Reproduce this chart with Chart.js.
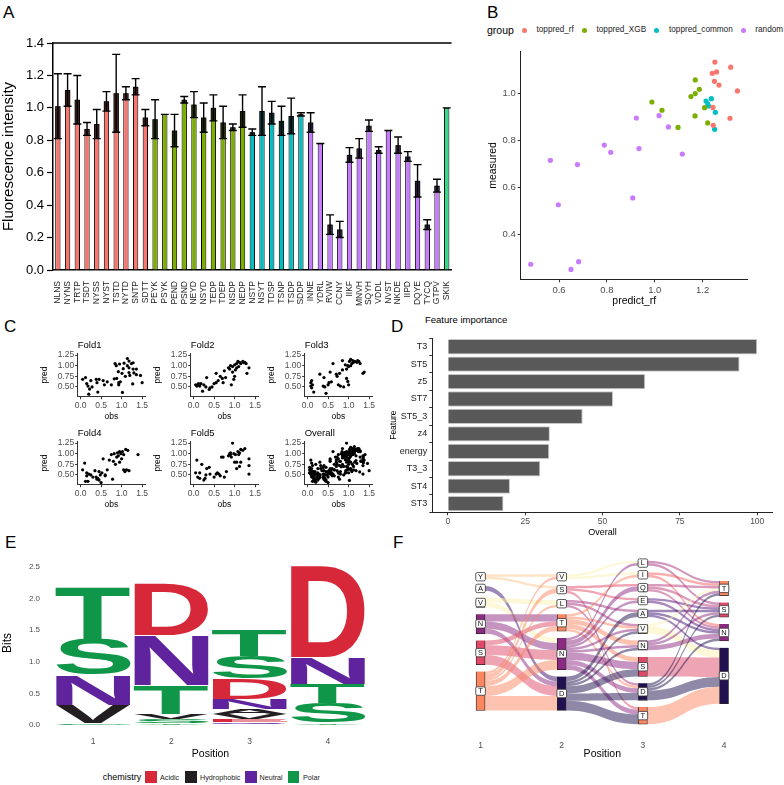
<!DOCTYPE html>
<html>
<head>
<meta charset="utf-8">
<script src="https://cdn.jsdelivr.net/npm/chart.js@4.4.0/dist/chart.umd.min.js"></script>
<style>
  body { margin: 0; width: 784px; height: 785px; position: relative; background: #fff; overflow: hidden;
         font-family: "Liberation Sans", Arial, Helvetica, sans-serif; }
  canvas { position: absolute; }
  .t { position: absolute; white-space: nowrap; line-height: 1; color: #000; }
  .sw { position: absolute; }
</style>
</head>
<body>
<script>
// ---------- panel A: fluorescence of tested sequences ----------
const seqLabels = ['NLNS','NYNS','TRTP','TSDT','NYSS','NYST','TSTD','NYTD','SNTP','SDTT',
  'PEYK','PSYK','PEND','PSND','NEYD','NSYD','TEDP','TDEP','NSDP','NEDP',
  'NSTP','NSYT','TDSP','TSNP','TSDP','SDDP',
  'INNE','YDRL','RVIW','CCNY','IIKF','MNVH','SQYH','VDDL','NVST','NKDE','IIPD','DQYE','TYCQ','GTPV',
  'SKIK'];
const seqGroup = ['rf','rf','rf','rf','rf','rf','rf','rf','rf','rf',
  'xgb','xgb','xgb','xgb','xgb','xgb','xgb','xgb','xgb','xgb',
  'common','common','common','common','common','common',
  'random','random','random','random','random','random','random','random','random','random','random','random','random','random',
  'control'];
const fluoMean = [1.01,1.11,1.05,0.87,0.90,1.04,1.09,1.09,1.13,0.94,
  0.93,0.96,0.86,1.05,1.02,0.94,1.00,0.91,0.88,0.98,
  0.85,0.98,0.97,0.92,0.95,0.96,
  0.91,0.78,0.28,0.25,0.71,0.75,0.89,0.74,0.86,0.77,0.70,0.55,0.28,0.52,
  1.00];
const fluoSd = [0.20,0.10,0.15,0.04,0.09,0.06,0.24,0.04,0.05,0.05,
  0.12,0,0.10,0.02,0.08,0.09,0.08,0.10,0.02,0.10,
  0.02,0.15,0.07,0.09,0.11,0.01,
  0.06,0,0.06,0.05,0.045,0.06,0.035,0.02,0,0.05,0.03,0.10,0.03,0.04,
  0];
const fluoTicks = [0, 0.2, 0.4, 0.6, 0.8, 1.0, 1.2, 1.4];

// ---------- panel B: measured vs predicted ----------
const rfPredict = [1.251,1.317,1.240,1.258,1.249,1.268,1.345,1.243,1.314,1.244];
const rfMeasured = [1.133,1.111,1.085,1.091,1.051,1.035,1.010,0.940,0.894,0.864];
const xgbPredict = [1.169,1.186,1.169,1.151,0.988,1.030,1.208,1.168,1.097,1.221];
const xgbMeasured = [1.057,1.017,0.999,0.986,0.963,0.928,0.939,0.904,0.855,0.874];
const commonPredict = [1.214,1.236,1.221,1.224,1.253,1.250];
const commonMeasured = [0.967,0.977,0.955,0.946,0.919,0.847];
const randomPredict = [0.923,1.018,1.057,1.115,0.789,0.816,0.934,0.564,0.677,0.597,0.908,0.482,0.650,0.682];
const randomMeasured = [0.895,0.905,0.857,0.742,0.780,0.749,0.765,0.715,0.697,0.526,0.555,0.273,0.251,0.284];
const bTicksX = [0.6, 0.8, 1.0, 1.2];
const bTicksY = [0.4, 0.6, 0.8, 1.0];

// ---------- panel C: cross-validation folds [obs, pred] ----------
const fold1 = [[0.05,0.68],[0.12,0.72],[0.15,0.58],[0.18,0.52],[0.22,0.45],[0.20,0.33],[0.25,0.65],[0.28,0.50],[0.38,0.68],[0.40,0.60],[0.42,0.38],[0.45,0.68],[0.55,0.65],[0.58,0.55],[0.65,0.62],[0.75,0.55],[0.82,0.69],[0.88,0.70],[0.93,0.60],[0.97,0.62],[0.84,1.05],[0.87,1.00],[0.95,1.04],[0.92,0.86],[1.04,0.93],[1.06,1.06],[1.01,0.82],[1.09,0.75],[1.14,1.00],[1.18,0.84],[0.93,0.55],[1.20,0.77],[1.02,0.37],[1.18,1.11],[1.24,1.05],[1.14,1.17],[1.28,1.07],[1.28,0.92],[1.30,0.83],[1.36,0.92],[1.36,0.79],[1.46,0.77],[1.50,0.60],[1.27,0.57],[1.18,0.95]];
const fold2 = [[0.05,0.55],[0.10,0.55],[0.15,0.52],[0.18,0.58],[0.22,0.40],[0.25,0.55],[0.30,0.50],[0.32,0.72],[0.38,0.44],[0.40,0.48],[0.45,0.50],[0.50,0.58],[0.55,0.60],[0.55,0.82],[0.60,0.65],[0.65,0.75],[0.70,0.70],[0.72,0.60],[0.75,0.88],[0.78,0.72],[0.85,0.95],[0.88,0.92],[0.90,1.00],[0.92,0.55],[0.95,0.98],[0.95,0.85],[1.00,1.02],[1.00,0.75],[1.02,0.90],[1.05,1.05],[1.05,0.95],[1.08,1.10],[1.10,0.98],[1.12,1.08],[1.15,1.05],[1.20,1.10],[1.22,1.07],[1.25,1.08],[1.28,1.05],[1.30,0.82],[1.35,0.95],[0.98,0.68],[0.12,0.58],[0.08,0.52]];
const fold3 = [[0.08,0.60],[0.08,0.52],[0.10,0.48],[0.12,0.55],[0.15,0.38],[0.10,0.65],[0.30,0.80],[0.38,0.52],[0.40,0.72],[0.42,0.50],[0.45,0.35],[0.50,0.55],[0.52,0.60],[0.55,0.85],[0.58,0.62],[0.62,1.05],[0.70,0.80],[0.72,0.75],[0.75,0.55],[0.78,0.82],[0.80,0.52],[0.85,0.90],[0.85,1.12],[0.88,0.50],[0.92,1.02],[0.95,0.70],[0.95,0.92],[0.98,0.63],[1.00,0.98],[1.00,0.55],[1.02,1.10],[1.05,1.00],[1.08,1.05],[1.10,1.12],[1.12,1.08],[1.15,1.10],[1.20,1.08],[1.22,1.12],[1.25,1.10],[1.28,1.05],[1.35,0.82],[1.38,0.85],[0.98,1.00],[1.05,1.15]];
const fold4 = [[0.05,0.62],[0.10,0.78],[0.12,0.35],[0.15,0.55],[0.15,0.48],[0.18,0.35],[0.20,0.52],[0.25,0.50],[0.30,0.45],[0.35,0.60],[0.38,0.45],[0.40,0.40],[0.42,0.42],[0.45,0.38],[0.45,0.58],[0.48,0.50],[0.50,0.32],[0.52,0.55],[0.55,0.88],[0.60,0.48],[0.65,0.62],[0.70,0.85],[0.75,0.98],[0.78,0.40],[0.80,0.82],[0.82,1.00],[0.85,0.75],[0.88,0.92],[0.90,1.02],[0.92,0.95],[0.95,1.05],[0.98,1.00],[1.00,0.88],[1.02,1.05],[1.05,0.62],[1.05,0.98],[1.08,0.58],[1.10,1.10],[1.12,0.62],[1.15,1.08],[1.18,0.60],[1.40,0.98],[0.95,0.80],[0.60,0.50]];
const fold5 = [[0.05,0.55],[0.08,0.85],[0.10,0.45],[0.15,0.42],[0.20,0.75],[0.25,0.38],[0.28,0.42],[0.30,0.50],[0.32,0.65],[0.38,0.68],[0.40,0.52],[0.50,0.45],[0.55,0.52],[0.58,0.55],[0.62,0.52],[0.65,0.48],[0.68,0.92],[0.72,0.92],[0.75,0.45],[0.80,0.58],[0.85,0.95],[0.88,1.00],[0.90,1.02],[0.92,0.92],[0.95,1.25],[0.98,1.00],[1.00,0.80],[1.02,0.98],[1.05,0.65],[1.05,0.80],[1.08,1.05],[1.10,0.98],[1.12,1.02],[1.15,1.10],[1.12,0.70],[1.15,0.80],[1.20,1.08],[1.25,1.12],[1.35,0.88],[1.35,0.72],[1.35,0.52],[0.90,0.98],[0.15,0.55]];
const foldTicksX = [0, 0.5, 1.0, 1.5];
const foldTicksY = [0.5, 0.75, 1.0, 1.25];

// ---------- panel D: feature importance ----------
const featureNames = ['T3','ST5','z5','ST7','ST5_3','z4','energy','T3_3','ST4','ST3'];
const featureImportance = [100, 94.3, 63.8, 53.4, 43.6, 33.0, 32.8, 29.9, 20.1, 18.0];
const importanceTicks = [0, 25, 50, 75, 100];

// ---------- panel E: sequence logo (bottom -> top per position) ----------
const logoPositions = ['1','2','3','4'];
const logoLetters = [
  ['G','V','N','S','T'],
  ['Y','S','V','T','N','D'],
  ['Q','E','V','A','N','D','S','T'],
  ['Y','S','T','N','D']];
const logoBits = [
  [0.03,0.28,0.48,0.56,0.82],
  [0.03,0.06,0.08,0.46,0.79,0.81],
  [0.04,0.05,0.08,0.08,0.16,0.33,0.35,0.41],
  [0.03,0.31,0.31,0.42,1.44]];
const logoTicks = [0, 0.5, 1.0, 1.5, 2.0, 2.5];
const chemistryNames = ['Acidic','Hydrophobic','Neutral','Polar'];

// ---------- panel F: alluvial of residues per position (top -> bottom) ----------
const alluvialStrata = [
  ['Y','A','V','N','S','T'],
  ['V','S','L','T','N','D'],
  ['L','I','Q','E','A','V','N','S','D','T'],
  ['T','S','N','D']];
const alluvialCounts = [
  [2,2,4,8,10,16],
  [2,3,3,7,13,14],
  [2,2,3,2,3,4,4,8,7,7],
  [6,6,7,23]];
const flows12 = [['Y','V',1],['Y','S',1],['A','D',2],['V','L',2],['V','N',2],['N','T',3],['N','N',3],['N','D',2],
  ['S','T',2],['S','N',4],['S','D',4],['T','V',1],['T','S',2],['T','L',1],['T','T',2],['T','N',4],['T','D',6]];
const flows23 = [['V','L',1],['V','I',1],['S','Q',1],['S','E',1],['S','T',1],['L','A',1],['L','V',1],['L','D',1],
  ['T','I',1],['T','V',1],['T','N',2],['T','S',2],['T','D',1],
  ['N','L',1],['N','Q',2],['N','E',1],['N','V',1],['N','N',1],['N','S',3],['N','D',2],['N','T',2],
  ['D','A',2],['D','V',1],['D','N',1],['D','S',3],['D','D',3],['D','T',4]];
const flows34 = [['L','T',1],['L','S',1],['I','T',1],['I','N',1],['Q','T',1],['Q','N',1],['Q','S',1],['E','S',1],['E','N',1],
  ['A','S',1],['A','N',1],['A','D',1],['V','D',3],['V','T',1],['N','T',1],['N','S',1],['N','N',2],['S','D',8],
  ['D','T',1],['D','S',1],['D','N',1],['D','D',4],['T','D',7]];

// ---------- styling ----------
const groupColor = { rf: '#F8766D', xgb: '#7CAE00', common: '#00BFC4', random: '#C77CFF', control: '#35D98A' };
const chemColor = { Acidic: '#D62839', Hydrophobic: '#221E22', Neutral: '#5E239D', Polar: '#109648' };
const chemOf = { G:'Polar', S:'Polar', T:'Polar', Y:'Polar', C:'Polar', Q:'Neutral', N:'Neutral',
  D:'Acidic', E:'Acidic', A:'Hydrophobic', V:'Hydrophobic', L:'Hydrophobic', I:'Hydrophobic',
  P:'Hydrophobic', W:'Hydrophobic', F:'Hydrophobic', M:'Hydrophobic' };
const letterFill = { T:'#FB8761', S:'#DE4968', N:'#8C2981', D:'#221150', V:'#FCF1B0', A:'#3B0F70',
  Y:'#FEC98D', L:'#A3307E', I:'#F1605D', Q:'#B73779', E:'#51127C' };
const grey30 = '#4D4D4D';

Chart.defaults.font.family = '"Liberation Sans", Arial, Helvetica, sans-serif';
Chart.defaults.animation = false;
Chart.defaults.responsive = false;
Chart.defaults.devicePixelRatio = 1;
Chart.defaults.plugins.legend.display = false;
Chart.defaults.plugins.tooltip.enabled = false;

function canvasAt(left, top, w, h) {
  const c = document.createElement('canvas');
  c.width = w; c.height = h;
  c.style.left = left + 'px'; c.style.top = top + 'px';
  c.style.width = w + 'px'; c.style.height = h + 'px';
  document.body.appendChild(c);
  return c;
}
function textAt(str, left, top, size, css) {
  const d = document.createElement('div');
  d.className = 't';
  d.textContent = str;
  d.style.left = left + 'px'; d.style.top = top + 'px'; d.style.fontSize = size + 'px';
  if (css) d.style.cssText += css;
  document.body.appendChild(d);
  return d;
}
function swatch(left, top, w, h, color, round) {
  const d = document.createElement('div');
  d.className = 'sw';
  d.style.cssText += `left:${left}px;top:${top}px;width:${w}px;height:${h}px;background:${color};` + (round ? 'border-radius:50%;' : '');
  document.body.appendChild(d);
}
const fixTicks = vals => s => { s.ticks = vals.map(v => ({ value: v })); };

// panel letters
textAt('A', 3, 4, 17);
textAt('B', 487, 4, 17);
textAt('C', 4, 318, 17);
textAt('D', 391, 318, 17);
textAt('E', 5, 534, 17);
textAt('F', 393, 534, 17);

// ================= A =================
const errorBars = {
  id: 'errorBars',
  afterDatasetsDraw(chart) {
    const { ctx, scales: { y } } = chart;
    const meta = chart.getDatasetMeta(0);
    ctx.save();
    meta.data.forEach((bar, i) => {
      const sd = fluoSd[i];
      const yHi = y.getPixelForValue(fluoMean[i] + sd);
      const yLo = y.getPixelForValue(fluoMean[i] - sd);
      const yM = bar.y, x = bar.x, w = bar.width;
      if (sd > 0) {
        ctx.fillStyle = 'rgba(0,0,0,0.72)';
        ctx.fillRect(x - w / 2, yM, w, yLo - yM);
      }
      ctx.strokeStyle = '#000';
      ctx.lineWidth = 1.4;
      ctx.beginPath();
      ctx.moveTo(x, yHi); ctx.lineTo(x, yLo);
      ctx.moveTo(x - 4, yHi); ctx.lineTo(x + 4, yHi);
      ctx.moveTo(x - 4, yLo); ctx.lineTo(x + 4, yLo);
      ctx.stroke();
    });
    // top frame line
    const a = chart.chartArea;
    ctx.lineWidth = 1.5;
    ctx.beginPath(); ctx.moveTo(a.left, a.top); ctx.lineTo(a.right, a.top); ctx.stroke();
    ctx.restore();
  }
};

new Chart(canvasAt(0, 0, 460, 310), {
  type: 'bar',
  data: {
    labels: seqLabels,
    datasets: [{
      data: fluoMean,
      backgroundColor: seqGroup.map(g => groupColor[g]),
      borderColor: '#000', borderWidth: 1,
      barPercentage: 0.55, categoryPercentage: 1
    }]
  },
  options: {
    layout: { padding: { top: 43, right: 7 } },
    scales: {
      x: {
        grid: { display: false },
        border: { color: '#000', width: 1.5 },
        ticks: { font: { size: 8.5 }, color: '#222', minRotation: 90, maxRotation: 90, autoSkip: false, padding: 3 },
        afterFit: s => { s.height = 40; }
      },
      y: {
        min: 0, max: 1.4,
        afterBuildTicks: fixTicks(fluoTicks),
        grid: { drawOnChartArea: false, tickLength: 6, tickColor: '#000', tickWidth: 1.2 },
        border: { color: '#000', width: 1.5 },
        ticks: { font: { size: 13 }, color: '#000', padding: 3, callback: v => v.toFixed(1) },
        title: { display: true, text: 'Fluorescence intensity', font: { size: 15 }, color: '#000', padding: 0 },
        afterFit: s => { s.width = 53; }
      }
    }
  },
  plugins: [errorBars]
});

// ================= B =================
textAt('group', 487, 25, 10.5);
[['toppred_rf', 524.3, 536.5, groupColor.rf], ['toppred_XGB', 584, 596.5, groupColor.xgb],
 ['toppred_common', 656.7, 669, groupColor.common], ['random', 743.3, 755.3, groupColor.random]]
  .forEach(([name, dx, tx, col]) => {
    swatch(dx - 2.5, 27.5, 5, 5, col, true);
    textAt(name, tx, 26, 8.2, 'color:#222;');
  });

const pts = (xs, ys) => xs.map((v, i) => ({ x: v, y: ys[i] }));
new Chart(canvasAt(485, 42, 299, 268), {
  type: 'scatter',
  data: {
    datasets: [
      { data: pts(rfPredict, rfMeasured), backgroundColor: groupColor.rf },
      { data: pts(xgbPredict, xgbMeasured), backgroundColor: groupColor.xgb },
      { data: pts(commonPredict, commonMeasured), backgroundColor: groupColor.common },
      { data: pts(randomPredict, randomMeasured), backgroundColor: groupColor.random }
    ].map(d => Object.assign(d, { pointRadius: 2.6, borderWidth: 0 }))
  },
  options: {
    layout: { padding: { top: 9.7, right: 36.3 } },
    scales: {
      x: {
        type: 'linear', min: 0.44, max: 1.388,
        afterBuildTicks: fixTicks(bTicksX),
        grid: { drawOnChartArea: false, tickLength: 3, tickColor: '#333' },
        border: { color: '#222', width: 1 },
        ticks: { font: { size: 9.5 }, color: grey30, padding: 2, callback: v => v.toFixed(1) },
        title: { display: true, text: 'predict_rf', font: { size: 10.5 }, color: '#000', padding: 3 },
        afterFit: s => { s.height = 30.7; }
      },
      y: {
        min: 0.209, max: 1.177,
        afterBuildTicks: fixTicks(bTicksY),
        grid: { drawOnChartArea: false, tickLength: 3, tickColor: '#333' },
        border: { color: '#222', width: 1 },
        ticks: { font: { size: 9.5 }, color: grey30, padding: 2, callback: v => v.toFixed(1) },
        title: { display: true, text: 'measured', font: { size: 10.5 }, color: '#000', padding: 2 },
        afterFit: s => { s.width = 35.7; }
      }
    }
  }
});

// ================= C =================
const folds = [['Fold1', fold1], ['Fold2', fold2], ['Fold3', fold3], ['Fold4', fold4], ['Fold5', fold5],
  ['Overall', [].concat(fold1, fold2, fold3, fold4, fold5)]];
folds.forEach(([name, data], k) => {
  const col = k % 3, row = Math.floor(k / 3);
  const left = 40 + col * 113.3, top = 336 + row * 88.3;
  new Chart(canvasAt(left, top, 110, 86), {
    type: 'scatter',
    data: { datasets: [{ data: data.map(p => ({ x: p[0], y: p[1] })), backgroundColor: '#000', pointRadius: 1.6, borderWidth: 0 }] },
    options: {
      layout: { padding: { top: 1, right: 5 } },
      plugins: {
        title: { display: true, text: name, align: 'start', fullSize: false, color: '#000',
                 font: { size: 9.5, weight: 'normal' }, padding: { top: 3, bottom: 2 } }
      },
      scales: {
        x: {
          type: 'linear', min: -0.07, max: 1.57,
          afterBuildTicks: fixTicks(foldTicksX),
          grid: { drawOnChartArea: false, tickLength: 2.5, tickColor: '#333' },
          border: { color: '#333', width: 1 },
          ticks: { font: { size: 8.5 }, color: grey30, padding: 1, callback: v => v.toFixed(1) },
          title: { display: true, text: 'obs', font: { size: 8.5 }, color: '#000', padding: 0 },
          afterFit: s => { s.height = 25.3; }
        },
        y: {
          min: 0.27, max: 1.29,
          afterBuildTicks: fixTicks(foldTicksY),
          grid: { drawOnChartArea: false, tickLength: 2.5, tickColor: '#333' },
          border: { color: '#333', width: 1 },
          ticks: { font: { size: 8.5 }, color: grey30, padding: 1, callback: v => v.toFixed(2) },
          title: { display: true, text: 'pred', font: { size: 8.5 }, color: '#000', padding: 0 },
          afterFit: s => { s.width = 37.7; }
        }
      }
    }
  });
});

// ================= D =================
textAt('Feature importance', 425, 315, 9.5);
new Chart(canvasAt(388, 330, 392, 208), {
  type: 'bar',
  data: {
    labels: featureNames,
    datasets: [{ data: featureImportance, backgroundColor: '#595959', borderColor: '#c8c8c8', borderWidth: 1,
                 barPercentage: 0.88, categoryPercentage: 1 }]
  },
  options: {
    indexAxis: 'y',
    layout: { padding: { top: 8, right: 7.3 } },
    scales: {
      x: {
        min: -5, max: 105,
        afterBuildTicks: fixTicks(importanceTicks),
        grid: { drawOnChartArea: false, tickLength: 3, tickColor: '#333' },
        border: { color: '#222', width: 1 },
        ticks: { font: { size: 8.5 }, color: grey30, padding: 1 },
        title: { display: true, text: 'Overall', font: { size: 9 }, color: '#000', padding: 0 },
        afterFit: s => { s.height = 25.7; }
      },
      y: {
        grid: { drawOnChartArea: false, tickLength: 3, tickColor: '#333' },
        border: { color: '#222', width: 1 },
        ticks: { font: { size: 9 }, color: '#222', padding: 2 },
        title: { display: true, text: 'Feature', font: { size: 8.5 }, color: '#000', padding: 1 },
        afterFit: s => { s.width = 44.3; }
      }
    }
  }
});

// ================= E =================
const logoSpans = logoLetters.map((letters, p) => {
  let y = 0; const span = {};
  letters.forEach((l, i) => { span[l] = [y, y + logoBits[p][i]]; y += logoBits[p][i]; });
  return span;
});
const eLetters = [...new Set(logoLetters.flat())];
function drawGlyph(ctx, ch, left, top, w, h, color) {
  ctx.save();
  ctx.font = 'bold 100px "Liberation Sans", Arial, sans-serif';
  ctx.textAlign = 'left'; ctx.textBaseline = 'alphabetic';
  const m = ctx.measureText(ch);
  const gw = m.actualBoundingBoxLeft + m.actualBoundingBoxRight;
  const gh = m.actualBoundingBoxAscent + m.actualBoundingBoxDescent;
  ctx.translate(left, top);
  ctx.scale(w / gw, h / gh);
  ctx.fillStyle = color;
  ctx.fillText(ch, m.actualBoundingBoxLeft, m.actualBoundingBoxAscent);
  ctx.restore();
}
const logoGlyphs = {
  id: 'logoGlyphs',
  afterDatasetsDraw(chart) {
    const ctx = chart.ctx;
    chart.data.datasets.forEach((ds, di) => {
      chart.getDatasetMeta(di).data.forEach((el, i) => {
        if (!ds.data[i]) return;
        const { x, y, base, width } = el.getProps(['x', 'y', 'base', 'width'], true);
        const top = Math.min(y, base), h = Math.abs(base - y);
        if (h < 0.4) return;
        drawGlyph(ctx, ds.letter, x - width / 2, top, width, h - 0.4, chemColor[chemOf[ds.letter]]);
      });
    });
  }
};
new Chart(canvasAt(0, 550, 380, 210), {
  type: 'bar',
  data: {
    labels: logoPositions,
    datasets: eLetters.map(l => ({
      letter: l,
      data: logoSpans.map(s => s[l] || null),
      backgroundColor: 'rgba(0,0,0,0)', borderWidth: 0,
      grouped: false, barPercentage: 0.96, categoryPercentage: 1
    }))
  },
  options: {
    layout: { padding: { top: 10.4, right: 13 } },
    scales: {
      x: {
        grid: { display: false }, border: { display: false },
        ticks: { font: { size: 8.5 }, color: grey30, padding: 4 },
        title: { display: true, text: 'Position', font: { size: 10.5 }, color: '#000', padding: 0 },
        afterFit: s => { s.height = 35; }
      },
      y: {
        min: 0, max: 2.6,
        afterBuildTicks: fixTicks(logoTicks),
        grid: { display: false }, border: { display: false },
        ticks: { font: { size: 8 }, color: grey30, padding: 6, callback: v => v.toFixed(1) },
        title: { display: true, text: 'Bits', font: { size: 12 }, color: '#000', padding: 0 },
        afterFit: s => { s.width = 54; }
      }
    }
  },
  plugins: [logoGlyphs]
});
textAt('chemistry', 102.7, 772.5, 9);
[[145, 160, 0], [185, 200, 1], [245, 259.5, 2], [287.5, 303, 3]].forEach(([sx, tx, k]) => {
  const name = chemistryNames[k];
  swatch(sx, 771, 11.7, 12.3, chemColor[name]);
  textAt(name, tx, 773.5, 7.2, 'color:#222;');
});

// ================= F =================
const gapF = 2.8;
const fTotals = alluvialCounts.map(c => c.reduce((a, b) => a + b, 0) + (c.length - 1) * gapF);
const fMax = Math.max(...fTotals);
const strataSpan = alluvialStrata.map((letters, p) => {
  let y = (fMax - fTotals[p]) / 2; const span = {};
  letters.forEach((l, i) => { span[l] = [y, y + alluvialCounts[p][i]]; y += alluvialCounts[p][i] + gapF; });
  return span;
});
const fLetters = [...new Set(alluvialStrata.flat())];
const hexA = (hex, a) => {
  const n = parseInt(hex.slice(1), 16);
  return `rgba(${n >> 16},${(n >> 8) & 255},${n & 255},${a})`;
};
const alluvia = {
  id: 'alluvia',
  beforeDatasetsDraw(chart) {
    const { ctx, scales: { x, y } } = chart;
    ctx.save();
    [flows12, flows23, flows34].forEach((flows, p) => {
      const so = alluvialStrata[p], to = alluvialStrata[p + 1];
      const bySrc = flows.slice().sort((a, b) => so.indexOf(a[0]) - so.indexOf(b[0]) || to.indexOf(a[1]) - to.indexOf(b[1]));
      const byTgt = flows.slice().sort((a, b) => to.indexOf(a[1]) - to.indexOf(b[1]) || so.indexOf(a[0]) - so.indexOf(b[0]));
      const srcY = new Map(), tgtY = new Map(), outOff = {}, inOff = {};
      bySrc.forEach(f => {
        const o = outOff[f[0]] || 0, s = strataSpan[p][f[0]][0] + o;
        srcY.set(f, [s, s + f[2]]); outOff[f[0]] = o + f[2];
      });
      byTgt.forEach(f => {
        const o = inOff[f[1]] || 0, s = strataSpan[p + 1][f[1]][0] + o;
        tgtY.set(f, [s, s + f[2]]); inOff[f[1]] = o + f[2];
      });
      const x0 = x.getPixelForValue(p) + 4.5, x1 = x.getPixelForValue(p + 1) - 4.5, xm = (x0 + x1) / 2;
      flows.forEach(f => {
        const a = srcY.get(f).map(v => y.getPixelForValue(v)), b = tgtY.get(f).map(v => y.getPixelForValue(v));
        ctx.beginPath();
        ctx.moveTo(x0, a[0]);
        ctx.bezierCurveTo(xm, a[0], xm, b[0], x1, b[0]);
        ctx.lineTo(x1, b[1]);
        ctx.bezierCurveTo(xm, b[1], xm, a[1], x0, a[1]);
        ctx.closePath();
        ctx.fillStyle = hexA(letterFill[f[0]], 0.5);
        ctx.fill();
      });
    });
    ctx.restore();
  },
  afterDatasetsDraw(chart) {
    const { ctx, scales: { x, y } } = chart;
    ctx.save();
    ctx.font = '7.5px "Liberation Sans", Arial, sans-serif';
    ctx.textAlign = 'center'; ctx.textBaseline = 'middle';
    strataSpan.forEach((span, p) => {
      const cx = x.getPixelForValue(p);
      Object.keys(span).forEach(l => {
        const cy = y.getPixelForValue((span[l][0] + span[l][1]) / 2);
        ctx.fillStyle = '#fff'; ctx.strokeStyle = '#333'; ctx.lineWidth = 0.8;
        ctx.beginPath(); ctx.roundRect(cx - 4.8, cy - 4.2, 9.6, 8.4, 1.5); ctx.fill(); ctx.stroke();
        ctx.fillStyle = '#111';
        ctx.fillText(l, cx, cy + 0.3);
      });
    });
    ctx.restore();
  }
};
new Chart(canvasAt(420, 540, 364, 220), {
  type: 'bar',
  data: {
    labels: ['1', '2', '3', '4'],
    datasets: fLetters.map(l => ({
      data: strataSpan.map(s => s[l] || null),
      backgroundColor: letterFill[l], borderColor: '#222', borderWidth: 0.8,
      grouped: false, barThickness: 9
    }))
  },
  options: {
    layout: { padding: { top: 15.8, left: 20, right: 19.4 } },
    scales: {
      x: {
        grid: { display: false }, border: { display: false },
        ticks: { font: { size: 8.5 }, color: grey30, padding: 4 },
        title: { display: true, text: 'Position', font: { size: 10.5 }, color: '#000', padding: 0 },
        afterFit: s => { s.height = 31; }
      },
      y: { display: false, reverse: true, min: -2, max: fMax + 2 }
    }
  },
  plugins: [alluvia]
});
</script>
</body>
</html>
